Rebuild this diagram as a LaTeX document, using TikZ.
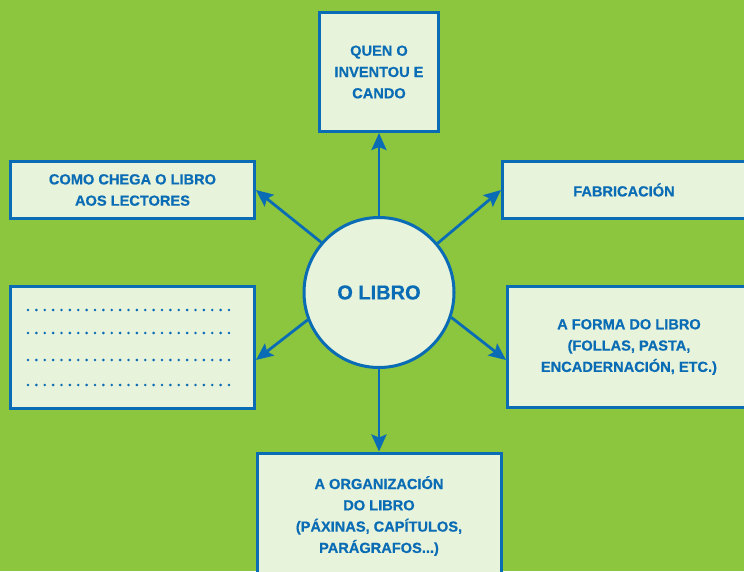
\documentclass[tikz,border=0pt]{standalone}
\usepackage{fontspec}
\setmainfont{Liberation Sans}[BoldFeatures={FakeBold=0.6}]
\usetikzlibrary{arrows.meta}
\definecolor{bggreen}{RGB}{140,198,63}
\definecolor{boxfill}{RGB}{232,243,220}
\definecolor{myblue}{RGB}{10,108,180}
\begin{document}
\begin{tikzpicture}[x=1pt,y=-1pt,
  box/.style={draw=myblue, fill=boxfill, line width=3pt, inner sep=0pt, align=center,
    text=myblue, font=\fontsize{14.6}{21.3}\selectfont\bfseries},
  hub/.style={circle, draw=myblue, fill=boxfill, line width=3pt, inner sep=0pt,
    minimum size=150pt, text=myblue, font=\fontsize{20}{22}\selectfont\bfseries},
  arr/.style={draw=myblue, line width=2.8pt, -{Stealth[length=17pt,width=15pt,inset=3pt]}}]
\fill[bggreen] (0,0) rectangle (744,571);
\clip (0,0) rectangle (744,571);
\node[hub] (c) at (379,292.5) {O LIBRO};
\node[box, minimum width=119pt, minimum height=119pt] (top) at (379,72) {QUEN O\\INVENTOU E\\CANDO};
\node[box, minimum width=244pt, minimum height=57pt] (como) at (132.5,190) {COMO CHEGA O LIBRO\\AOS LECTORES};
\node[box, minimum width=244pt, minimum height=122pt] (dots) at (132.5,347.5) {};
\node[box, minimum width=243pt, minimum height=57pt] (fab) at (624,190) {FABRICACIÓN};
\node[box, minimum width=243pt, minimum height=121pt] (forma) at (629,347) {A FORMA DO LIBRO\\(FOLLAS, PASTA,\\ENCADERNACIÓN, ETC.)};
\node[box, minimum width=244pt, minimum height=126pt] (bot) at (379,516) {A ORGANIZACIÓN\\DO LIBRO\\(PÁXINAS, CAPÍTULOS,\\PARÁGRAFOS...)};
\foreach \yy in {310,333,360,385}
  \foreach \i in {0,...,24}
    \fill[myblue] (28+\i*8.375,\yy) circle (1.4pt);
\draw[arr] (c.north) -- (top.south);
\draw[arr] (c.139) -- (como.east);
\draw[arr] (c.40) -- (fab.west);
\draw[arr] (c.201) -- ([yshift=-12.5pt]dots.east);
\draw[arr] (c.341) -- ([yshift=-13pt]forma.west);
\draw[arr] (c.south) -- (bot.north);
\end{tikzpicture}
\end{document}
